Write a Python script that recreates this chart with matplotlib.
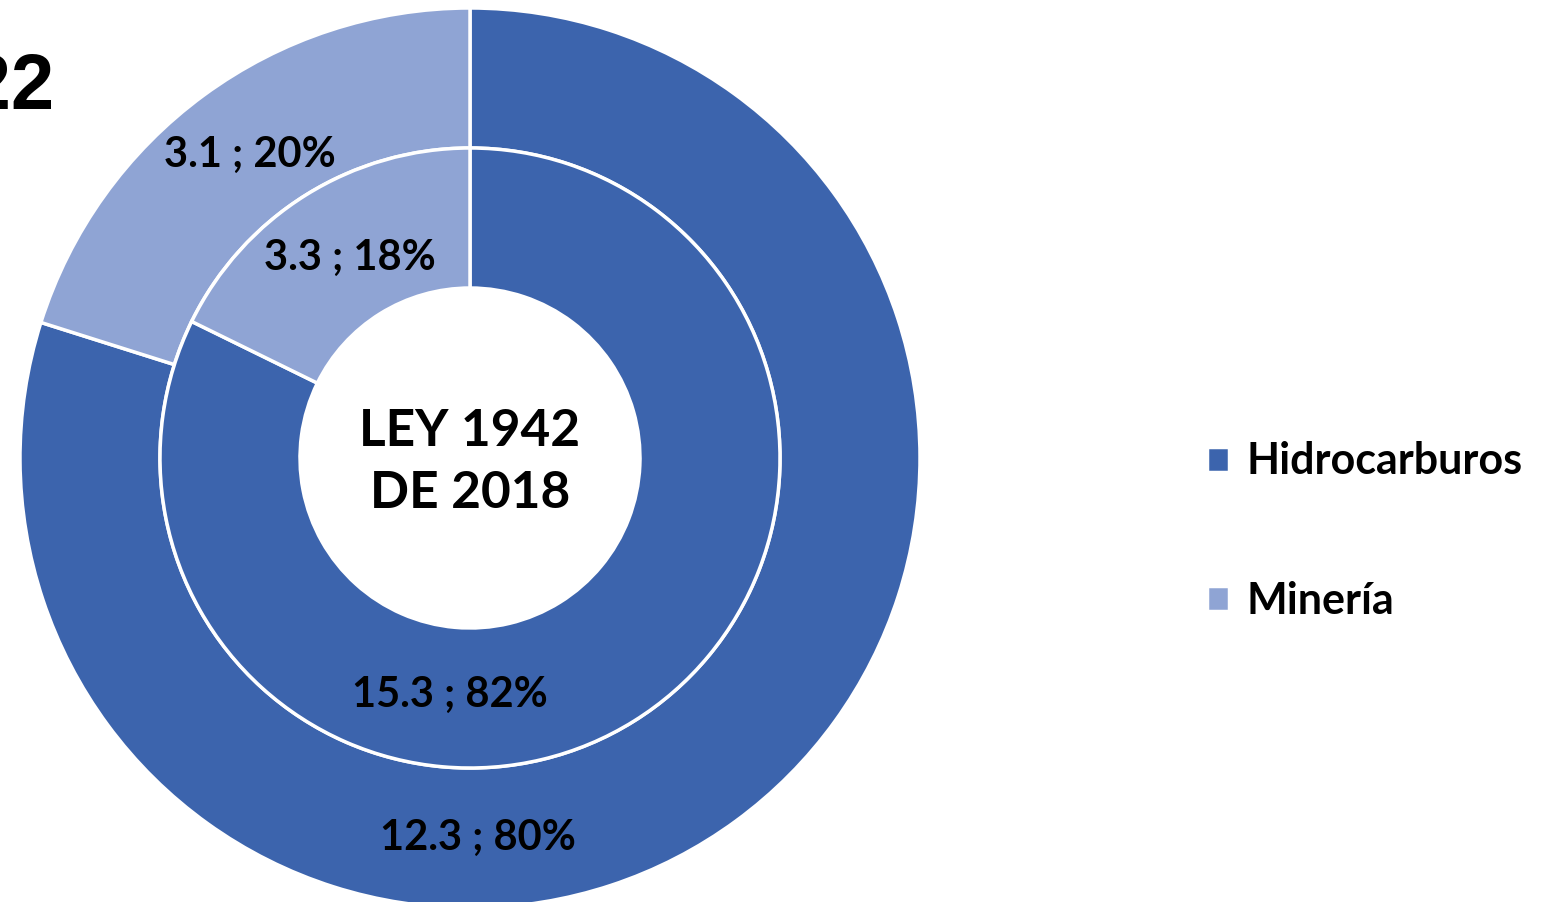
import matplotlib.pyplot as plt
import numpy as np

# data
categories = ["Hidrocarburos", "Minería"]
outer_values = [12.3, 3.1]   # anillo exterior
outer_pct = [80, 20]
inner_values = [15.3, 3.3]   # anillo interior, Ley 1942 de 2018
inner_pct = [82, 18]
center_text = "LEY 1942\nDE 2018"
title_text = "2022"

colors = ["#3C64AD", "#8FA4D4"]
font = "Lato"

W, H = 1547, 902
fig = plt.figure(figsize=(W / 100, H / 100), dpi=100)

# pie centre at (470, 458) px, outer radius 450 px
cx, cy, R = 470, 458, 450
ax = fig.add_axes([(cx - R) / W, (H - cy - R) / H, 2 * R / W, 2 * R / H])

ring_w = 140 / R
outer_w, _ = ax.pie(outer_values, radius=1.0, colors=colors, startangle=90,
                    counterclock=False,
                    wedgeprops=dict(width=ring_w, edgecolor="white", linewidth=2.5))
inner_w, _ = ax.pie(inner_values, radius=1.0 - ring_w, colors=colors, startangle=90,
                    counterclock=False,
                    wedgeprops=dict(width=ring_w, edgecolor="white", linewidth=2.5))
ax.set_xlim(-1, 1)
ax.set_ylim(-1, 1)
ax.set_aspect("equal")
ax.axis("off")


def px(x, y):
    return (x - cx) / R, (cy - y) / R


# label spots (pixel coords in the reference), hand placed like the original
outer_spots = [(478, 838), (250, 155)]
inner_spots = [(450, 695), (350, 258)]

for v, p, s in zip(outer_values, outer_pct, outer_spots):
    ax.text(*px(*s), f"{v} ; {p}%", ha="center", va="center",
            fontsize=30, fontweight="bold", family=font)
for v, p, s in zip(inner_values, inner_pct, inner_spots):
    ax.text(*px(*s), f"{v} ; {p}%", ha="center", va="center",
            fontsize=30, fontweight="bold", family=font)

ax.text(0, -0.01, center_text, ha="center", va="center", fontsize=37,
        fontweight="bold", family=font, linespacing=1.38)

fig.text(54 / W, 1 - 88 / H, title_text, ha="right", va="center",
         fontsize=56, fontweight="bold", family="Liberation Sans")

fig.legend(outer_w, categories, loc="center left",
           bbox_to_anchor=(1207 / W, 1 - 531 / H), frameon=False,
           prop=dict(family=font, weight="bold", size=31),
           handlelength=0.52, handleheight=0.52, handletextpad=0.4,
           labelspacing=2.3, borderpad=0, borderaxespad=0)

fig.savefig("out.png", dpi=100)
